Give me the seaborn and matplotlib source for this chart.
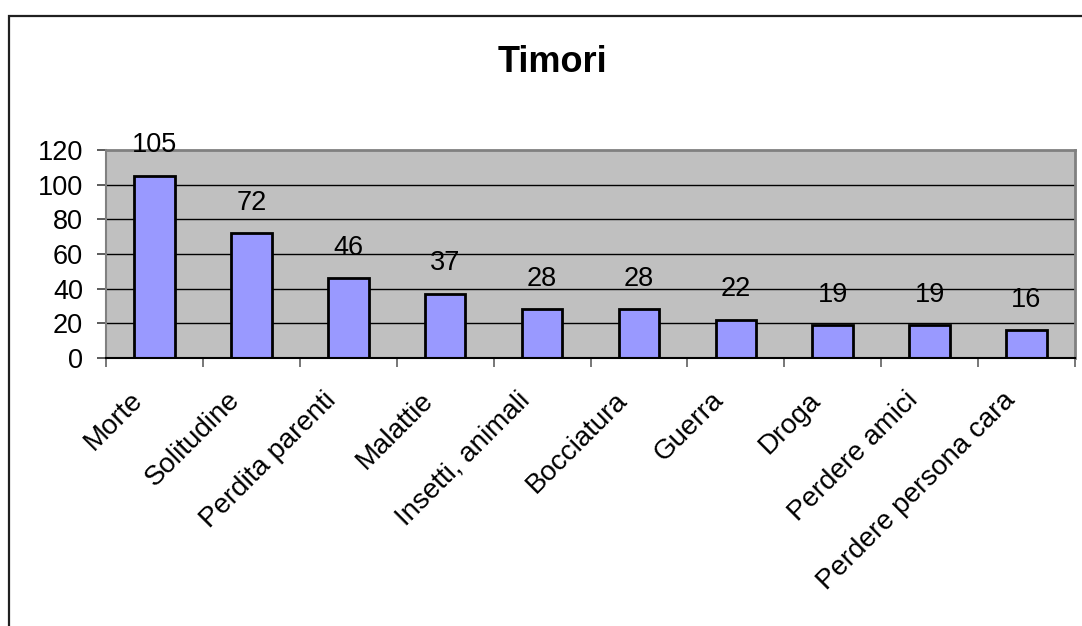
import matplotlib
matplotlib.use("Agg")
import matplotlib.pyplot as plt
import seaborn as sns
import pandas as pd
from matplotlib.patches import Rectangle

categories = ["Morte", "Solitudine", "Perdita parenti", "Malattie", "Insetti, animali",
              "Bocciatura", "Guerra", "Droga", "Perdere amici", "Perdere persona cara"]
values = [105, 72, 46, 37, 28, 28, 22, 19, 19, 16]
title = "Timori"
yticks = [0, 20, 40, 60, 80, 100, 120]

sns.set_theme(style="white")
plt.rcParams['font.family'] = ['Liberation Sans', 'DejaVu Sans']
plt.rcParams['text.color'] = 'black'
plt.rcParams['xtick.color'] = 'black'
plt.rcParams['ytick.color'] = 'black'
plt.rcParams['xtick.labelcolor'] = 'black'
plt.rcParams['ytick.labelcolor'] = 'black'

fig = plt.figure(figsize=(10.82, 6.26), dpi=100)
ax = fig.add_axes([106/1082, 1 - 358/626, (1075 - 106)/1082, (358 - 150)/626])

df = pd.DataFrame({"cat": categories, "val": values})
sns.barplot(data=df, x="cat", y="val", ax=ax, color="#9999FF", saturation=1,
            width=0.42, edgecolor="black", linewidth=2.0, zorder=3)

ax.set_facecolor("#C0C0C0")
ax.set_ylim(0, 120)
ax.set_xlim(-0.5, len(categories) - 0.5)
ax.set_yticks(yticks)
ax.set_yticklabels([str(t) for t in yticks], fontsize=19.5)
for t in yticks[1:-1]:
    ax.axhline(t, color="black", lw=1.0, zorder=1)

for s in ["top", "right"]:
    ax.spines[s].set_color("#808080")
    ax.spines[s].set_linewidth(2)
ax.spines["left"].set_color("#808080")
ax.spines["left"].set_linewidth(1.5)
ax.spines["bottom"].set_color("black")
ax.spines["bottom"].set_linewidth(1.5)
ax.spines["bottom"].set_zorder(4)

# y ticks
ax.tick_params(axis="y", left=True, length=6.5, width=1.2, color="#404040", pad=10)
# x ticks at category boundaries
ax.set_xticks([i - 0.5 for i in range(len(categories) + 1)], minor=False)
ax.set_xticklabels([""] * (len(categories) + 1))
ax.tick_params(axis="x", bottom=True, length=6.5, width=1.2, color="#606060")

# rotated category labels
for i, c in enumerate(categories):
    ax.annotate(c, xy=(i, 0), xycoords=("data", "axes fraction"),
                xytext=(-18, -21), textcoords="offset points",
                rotation=45, ha="right", va="top", rotation_mode="anchor",
                fontsize=20, color="black")

# data labels
for i, v in enumerate(values):
    ax.annotate(str(v), xy=(i, v), xytext=(0, 22), textcoords="offset points",
                ha="center", va="center", fontsize=19.5, color="black", zorder=5)

ax.set_xlabel("")
ax.set_ylabel("")

fig.text(552/1082, 1 - 63/626, title, ha="center", va="center",
         fontsize=26, fontweight="bold", color="black")

# outer frame (left and top edges visible)
fig.add_artist(Rectangle((9/1082, -0.1), 1.2, 1 - 16/626 + 0.1, transform=fig.transFigure,
                         fill=False, edgecolor="#202020", lw=1.6))

fig.savefig("out.png", dpi=100)
